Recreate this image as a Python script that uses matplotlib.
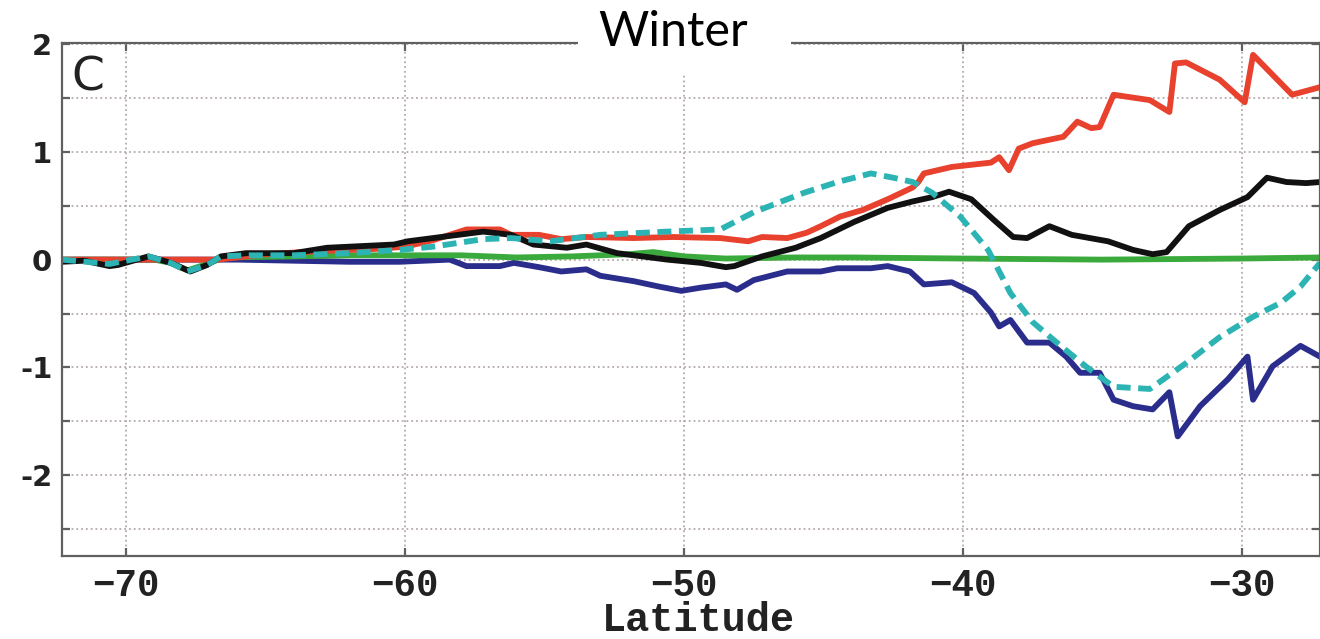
import matplotlib
matplotlib.use("Agg")
import matplotlib.pyplot as plt
from matplotlib.patches import Rectangle

# general look
matplotlib.rc('axes', edgecolor='#606060', linewidth=1.6)
matplotlib.rc('xtick', direction='in')
matplotlib.rc('ytick', direction='in')

X_MIN = -72.3
X_MAX = -27.2
Y_MIN = -2.75
Y_MAX = 2.01

# ---- data ----
red_lat = [-72.3, -66.7, -65, -63, -61, -60, -59, -57.8, -56.6, -56.2, -55.2, -54.4, -53.5,
           -51.8, -50.4, -48.7, -47.7, -47.2, -46.3, -45.6, -45.1, -44.4, -43.6, -42.7, -41.8,
           -41.6, -41.4, -40.4, -39.0, -38.7, -38.35, -38.0, -37.5, -36.4, -35.9, -35.4, -35.1,
           -34.6, -33.3, -32.6, -32.4, -32.0, -30.8, -29.9, -29.6, -28.2, -27.2]
red_val = [0, 0, 0.05, 0.08, 0.1, 0.12, 0.18, 0.28, 0.28, 0.23, 0.23, 0.19, 0.21,
           0.2, 0.21, 0.2, 0.17, 0.21, 0.2, 0.25, 0.31, 0.4, 0.46, 0.56, 0.67,
           0.72, 0.8, 0.86, 0.9, 0.95, 0.83, 1.03, 1.08, 1.14, 1.28, 1.22, 1.23,
           1.53, 1.48, 1.37, 1.82, 1.83, 1.67, 1.46, 1.9, 1.53, 1.6]

blue_lat = [-72.3, -68, -66, -64, -62, -60.2, -58.4, -57.8, -56.6, -56.1, -55.2, -54.4, -53.5,
            -53.0, -51.8, -50.9, -50.1, -49.4, -48.5, -48.1, -47.5, -46.3, -45.1, -44.5, -43.3,
            -42.7, -41.9, -41.4, -40.4, -39.6, -39.0, -38.7, -38.3, -37.7, -36.9, -36.3, -35.8,
            -35.1, -34.6, -33.9, -33.2, -32.6, -32.3, -31.5, -30.5, -29.8, -29.6, -28.9, -27.9, -27.2]
blue_val = [0, 0, 0, -0.01, -0.02, -0.02, 0, -0.06, -0.06, -0.03, -0.07, -0.11, -0.09,
            -0.15, -0.2, -0.25, -0.29, -0.26, -0.23, -0.28, -0.19, -0.11, -0.11, -0.08, -0.08,
            -0.06, -0.11, -0.23, -0.21, -0.31, -0.49, -0.62, -0.56, -0.77, -0.77, -0.9, -1.05,
            -1.05, -1.3, -1.36, -1.39, -1.23, -1.64, -1.36, -1.11, -0.9, -1.3, -0.99, -0.8, -0.9]

green_lat = [-72.3, -69, -68.4, -67.8, -67.1, -66.5, -64, -62, -60, -58, -56, -54, -52,
             -51.1, -50, -48.5, -46, -44, -40, -35, -30, -27.2]
green_val = [0, 0, -0.03, -0.1, -0.04, 0.02, 0.03, 0.04, 0.04, 0.04, 0.02, 0.03, 0.05,
             0.07, 0.03, 0.01, 0.02, 0.02, 0.01, 0.0, 0.01, 0.02]

black_lat = [-72.3, -71.5, -70.6, -70.3, -69.2, -68.4, -67.7, -67.1, -66.6, -65.7, -64.0, -62.8,
             -60.4, -59.9, -59.0, -57.2, -56.2, -55.4, -54.2, -53.5, -52.4, -50.6, -49.4, -48.5,
             -48.2, -47.2, -46.0, -45.1, -43.9, -42.7, -41.8, -41.1, -40.5, -39.7, -38.9, -38.2,
             -37.7, -36.9, -36.1, -34.8, -33.9, -33.2, -32.7, -31.9, -30.8, -29.8, -29.1, -28.4,
             -27.7, -27.2]
black_val = [-0.02, -0.01, -0.06, -0.05, 0.03, -0.03, -0.11, -0.05, 0.03, 0.06, 0.06, 0.11,
             0.14, 0.17, 0.2, 0.26, 0.23, 0.14, 0.11, 0.14, 0.06, 0.0, -0.03, -0.07,
             -0.06, 0.03, 0.11, 0.2, 0.35, 0.48, 0.54, 0.58, 0.63, 0.56, 0.37, 0.21,
             0.2, 0.31, 0.23, 0.17, 0.09, 0.05, 0.07, 0.31, 0.46, 0.58, 0.76, 0.72,
             0.71, 0.72]

cyan_lat = [-72.3, -70.6, -69.2, -68.4, -67.8, -67.1, -66.6, -65.7, -64, -62, -60.2, -59.0,
            -57.2, -56.2, -54.8, -53.0, -50.6, -48.7, -47.5, -45.7, -44.5, -43.3, -42.5, -41.8,
            -41.1, -40.1, -39.1, -38.3, -37.5, -36.5, -35.6, -34.6, -33.3, -32.0, -30.8, -29.6,
            -28.6, -27.9, -27.2]
cyan_val = [0, -0.04, 0.03, -0.03, -0.11, -0.05, 0.03, 0.04, 0.04, 0.06, 0.09, 0.12,
            0.19, 0.2, 0.17, 0.23, 0.26, 0.28, 0.44, 0.62, 0.72, 0.8, 0.76, 0.72,
            0.62, 0.4, 0.09, -0.31, -0.58, -0.8, -0.99, -1.18, -1.2, -0.96, -0.72, -0.53,
            -0.4, -0.25, -0.03]

x_ticks = [-70, -60, -50, -40, -30]
y_ticks = [-2, -1, 0, 1, 2]
y_minor = [-2.5, -1.5, -0.5, 0.5, 1.5]

fig = plt.figure(figsize=(13.2, 6.39), dpi=100)
ax = fig.add_axes([62/1320, 83/639, 1 - 62/1320, 513/639])

LW = 4.2
ax.plot(blue_lat, blue_val, '-', color='#2b2d8c', lw=LW)
ax.plot(green_lat, green_val, '-', color='#3aaa3c', lw=LW)
ax.plot(red_lat, red_val, '-', color='#e8412e', lw=LW)
ax.plot(black_lat, black_val, '-', color='#111111', lw=LW)
ax.plot(cyan_lat, cyan_val, color='#2cb3b3', lw=LW, linestyle=(0, (2.4, 1.3)))

ax.axis([X_MIN, X_MAX, Y_MIN, Y_MAX])
ax.set_xticks(x_ticks)
ax.set_yticks(y_ticks)
ax.set_yticks(y_minor, minor=True)
ax.tick_params(axis='both', which='both', top=True, right=True, length=6, width=1.6,
               color='#606060')
ax.tick_params(axis='x', pad=9)
ax.tick_params(axis='y', pad=7)

# dotted grid
ax.grid(True, which='both', axis='y', linestyle=':', color='#b5a9a9', lw=1.3)
ax.grid(True, which='major', axis='x', linestyle=':', color='#b5a9a9', lw=1.3)
ax.set_axisbelow(True)

for lab in ax.get_xticklabels():
    lab.set_fontfamily('Liberation Mono')
    lab.set_fontweight('bold')
    lab.set_fontsize(27)
    lab.set_color('#222222')
ax.set_yticklabels([str(v) for v in y_ticks], fontsize=21, fontweight='bold',
                   family='DejaVu Sans', color='#222222')

ax.set_xlabel('Latitude', fontsize=29, fontweight='bold', family='Liberation Mono',
              color='#222222', va='baseline')
ax.xaxis.set_label_coords(0.506, -0.146)

ax.text(0.0203, 0.932, 'C', transform=ax.transAxes, ha='center', va='center',
        fontsize=34, color='#222222')

# white title box over the top spine
fig.add_artist(Rectangle((578/1320, 1 - 73/639), 213/1320, 73/639, transform=fig.transFigure,
                         facecolor='white', edgecolor='none', zorder=9))
fig.text(673/1320, 1 - 32/639, 'Winter', ha='center', va='center', fontsize=35,
         family='Lato', color='black', zorder=10)

fig.savefig('out.png', dpi=100)
